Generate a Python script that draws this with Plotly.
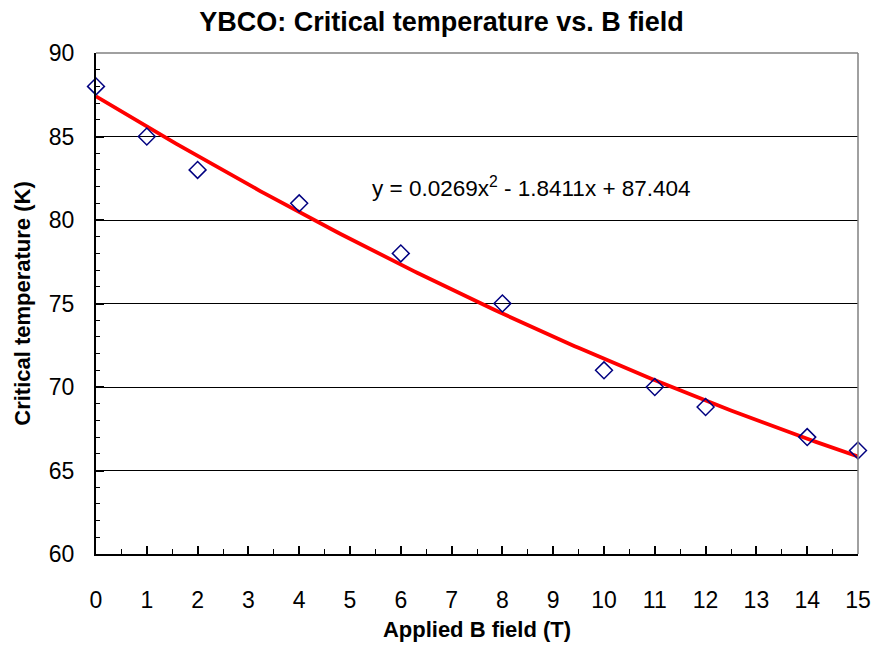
import numpy as np
import plotly.graph_objects as go

# Applied field (T) and measured critical temperature (K)
field_T = [0, 1, 2, 4, 6, 8, 10, 11, 12, 14, 15]
tc_K = [88.0, 85.0, 83.0, 81.0, 78.0, 75.0, 71.0, 70.0, 68.8, 67.0, 66.2]

# Quadratic trendline coefficients (a*x^2 + b*x + c)
fit_a, fit_b, fit_c = 0.0269, -1.8411, 87.404

x_ticks = list(range(0, 16))
y_ticks = [60, 65, 70, 75, 80, 85, 90]

FONT = "Liberation Sans, Arial, sans-serif"

xs = np.linspace(min(field_T), max(field_T), 200)
ys = fit_a * xs**2 + fit_b * xs + fit_c

fig = go.Figure()

fig.add_trace(go.Scatter(
    x=xs, y=ys, mode="lines",
    line=dict(color="#ff0000", width=3.8),
    hoverinfo="skip", showlegend=False, cliponaxis=False,
))

fig.add_trace(go.Scatter(
    x=field_T, y=tc_K, mode="markers",
    marker=dict(symbol="diamond-open", size=13, color="#000080",
                line=dict(color="#000080", width=1.5)),
    showlegend=False, cliponaxis=False,
))

eq_text = (f"y = {fit_a}x<sup>2</sup> - {abs(fit_b)}x + {fit_c}")
fig.add_annotation(
    x=8.58, y=81.96, xref="x", yref="y", text=eq_text, showarrow=False,
    font=dict(family=FONT, size=22.5, color="black"),
    xanchor="center", yanchor="middle",
)

# Plot-area frame: top and right edges in grey
fig.add_shape(type="line", xref="paper", yref="paper", x0=0, x1=1, y0=1, y1=1,
              line=dict(color="#808080", width=1.5), layer="above")
fig.add_shape(type="line", xref="paper", yref="paper", x0=1, x1=1, y0=0, y1=1,
              line=dict(color="#808080", width=1.5), layer="above")

fig.update_layout(
    width=883, height=650,
    margin=dict(l=96, r=17, t=53, b=93),
    paper_bgcolor="white", plot_bgcolor="white",
    font=dict(family=FONT, color="black"),
    title=dict(text="<b>YBCO: Critical temperature vs. B field</b>",
               x=0.5, xanchor="center", y=1 - 22 / 650, yanchor="middle",
               font=dict(family=FONT, size=27, color="black")),
    xaxis=dict(
        range=[0, 15], tickvals=x_ticks, ticktext=[str(v) for v in x_ticks],
        showgrid=False, zeroline=False,
        showline=True, linecolor="black", linewidth=2,
        ticks="inside", ticklen=8, tickwidth=1.5, tickcolor="black",
        minor=dict(dtick=0.5, ticks="inside", ticklen=5, tickwidth=1,
                   tickcolor="black", showgrid=False),
        tickfont=dict(family=FONT, size=23, color="black"),
        ticklabelstandoff=24,
        title=dict(text="<b>Applied B field (T)</b>", standoff=10,
                   font=dict(family=FONT, size=22, color="black")),
    ),
    yaxis=dict(
        range=[60, 90], tickvals=y_ticks, ticktext=[str(v) for v in y_ticks],
        showgrid=True, gridcolor="black", gridwidth=1,
        zeroline=False,
        showline=True, linecolor="black", linewidth=2,
        ticks="inside", ticklen=8, tickwidth=1.5, tickcolor="black",
        minor=dict(dtick=1, ticks="inside", ticklen=4, tickwidth=1,
                   tickcolor="black", showgrid=False),
        tickfont=dict(family=FONT, size=23, color="black"),
        ticklabelstandoff=15,
        title=dict(text="<b>Critical temperature (K)</b>", standoff=12,
                   font=dict(family=FONT, size=22, color="black")),
    ),
)

fig.write_html("out.html")
